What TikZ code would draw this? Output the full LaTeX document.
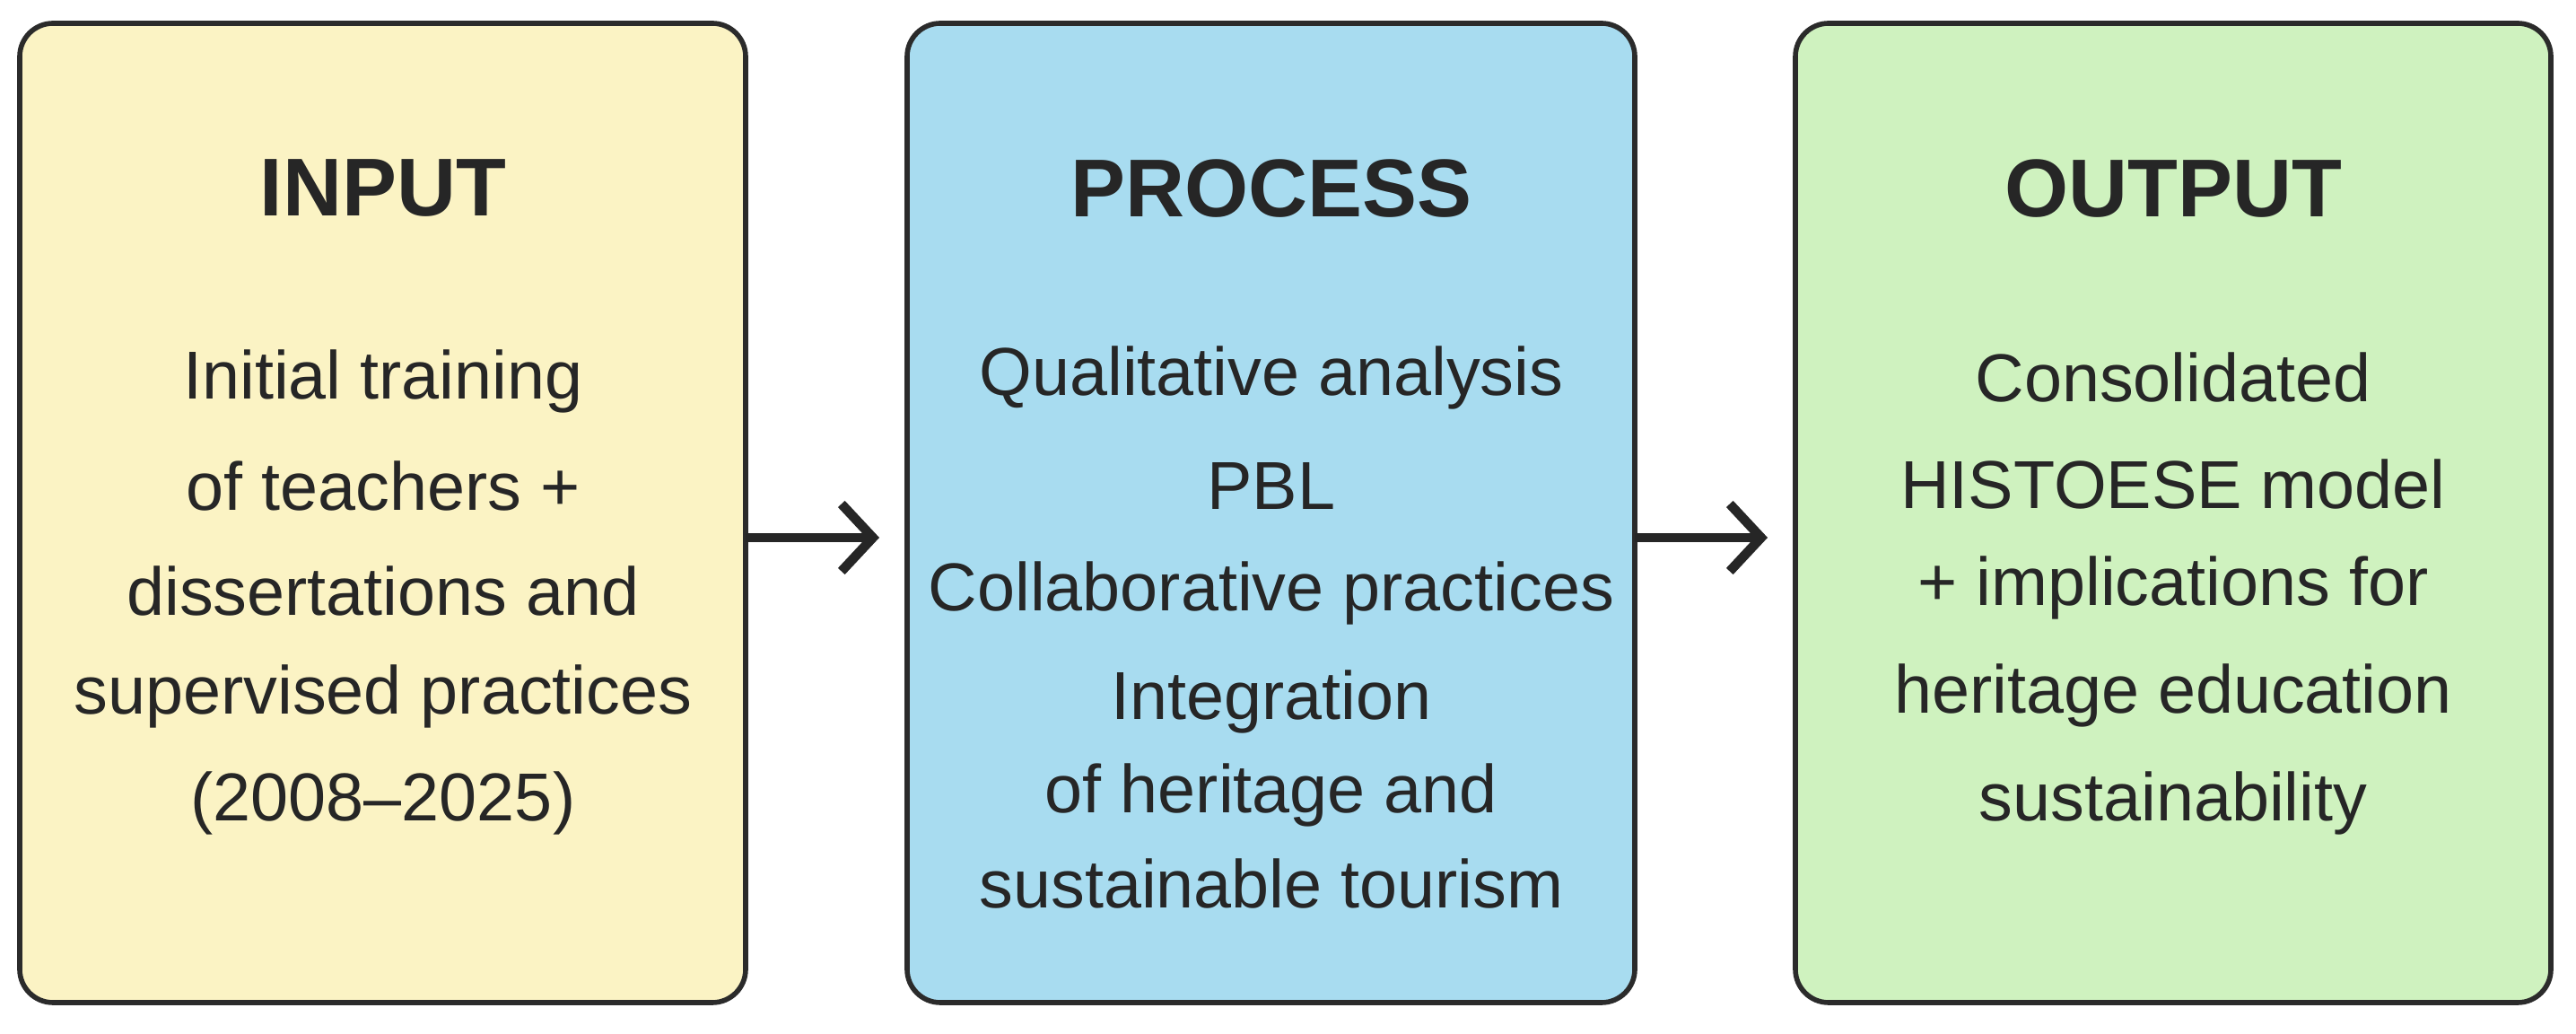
\documentclass[tikz,border=0pt]{standalone}
\usepackage{fontspec}
\setmainfont{Liberation Sans}
\usetikzlibrary{arrows.meta}
\definecolor{cin}{HTML}{FBF3C4}
\definecolor{cpr}{HTML}{A8DCF0}
\definecolor{cout}{HTML}{CFF2BF}
\definecolor{edge}{HTML}{2B2B2B}
\tikzset{
 box/.style={draw=edge,line width=1.6pt,rounded corners=0.37cm},
 ttl/.style={font=\fontsize{26}{30}\selectfont\bfseries,text=black!85},
 ln/.style={font=\fontsize{21.5}{26}\selectfont,text=black!85},
 arr/.style={line width=3pt,draw=black!85,-{Straight Barb[length=0.35cm,width=0.75cm,line width=3pt]}}
}
\begin{document}
\begin{tikzpicture}
\useasboundingbox (0,0) rectangle (28.71,11.52);
\path[box,fill=cin] (0.22,0.35) rectangle (8.31,11.26);
\path[box,fill=cpr] (10.11,0.35) rectangle (18.22,11.26);
\path[box,fill=cout] (20.01,0.35) rectangle (28.43,11.26);
\coordinate (b1r) at (8.31,5.53);
\coordinate (b2l) at (9.80,5.53);
\coordinate (b2r) at (18.22,5.53);
\coordinate (b3l) at (19.70,5.53);
\draw[arr] (b1r) -- (b2l);
\draw[arr] (b2r) -- (b3l);
\node[ttl] (t1) at (4.27,9.42) {INPUT};
\node[ttl] (t2) at (14.17,9.42) {PROCESS};
\node[ttl] (t3) at (24.22,9.42) {OUTPUT};
\node[ln] (i1) at (4.27,7.27) {Initial training};
\node[ln] (i2) at (4.27,6.10) {of teachers +};
\node[ln] (i3) at (4.27,4.93) {dissertations and};
\node[ln] (i4) at (4.27,3.76) {supervised practices};
\node[ln] (i5) at (4.27,2.57) {(2008–2025)};
\node[ln] (p1) at (14.17,7.31) {Qualitative analysis};
\node[ln] (p2) at (14.17,6.10) {PBL};
\node[ln] (p3) at (14.17,4.91) {Collaborative practices};
\node[ln] (p4) at (14.17,3.70) {Integration};
\node[ln] (p5) at (14.17,2.66) {of heritage and};
\node[ln] (p6) at (14.17,1.67) {sustainable tourism};
\node[ln] (o1) at (24.22,7.31) {Consolidated};
\node[ln] (o2) at (24.22,6.12) {HISTOESE model};
\node[ln] (o3) at (24.22,4.97) {+ implications for};
\node[ln] (o4) at (24.22,3.77) {heritage education};
\node[ln] (o5) at (24.22,2.57) {sustainability};
\end{tikzpicture}
\end{document}
